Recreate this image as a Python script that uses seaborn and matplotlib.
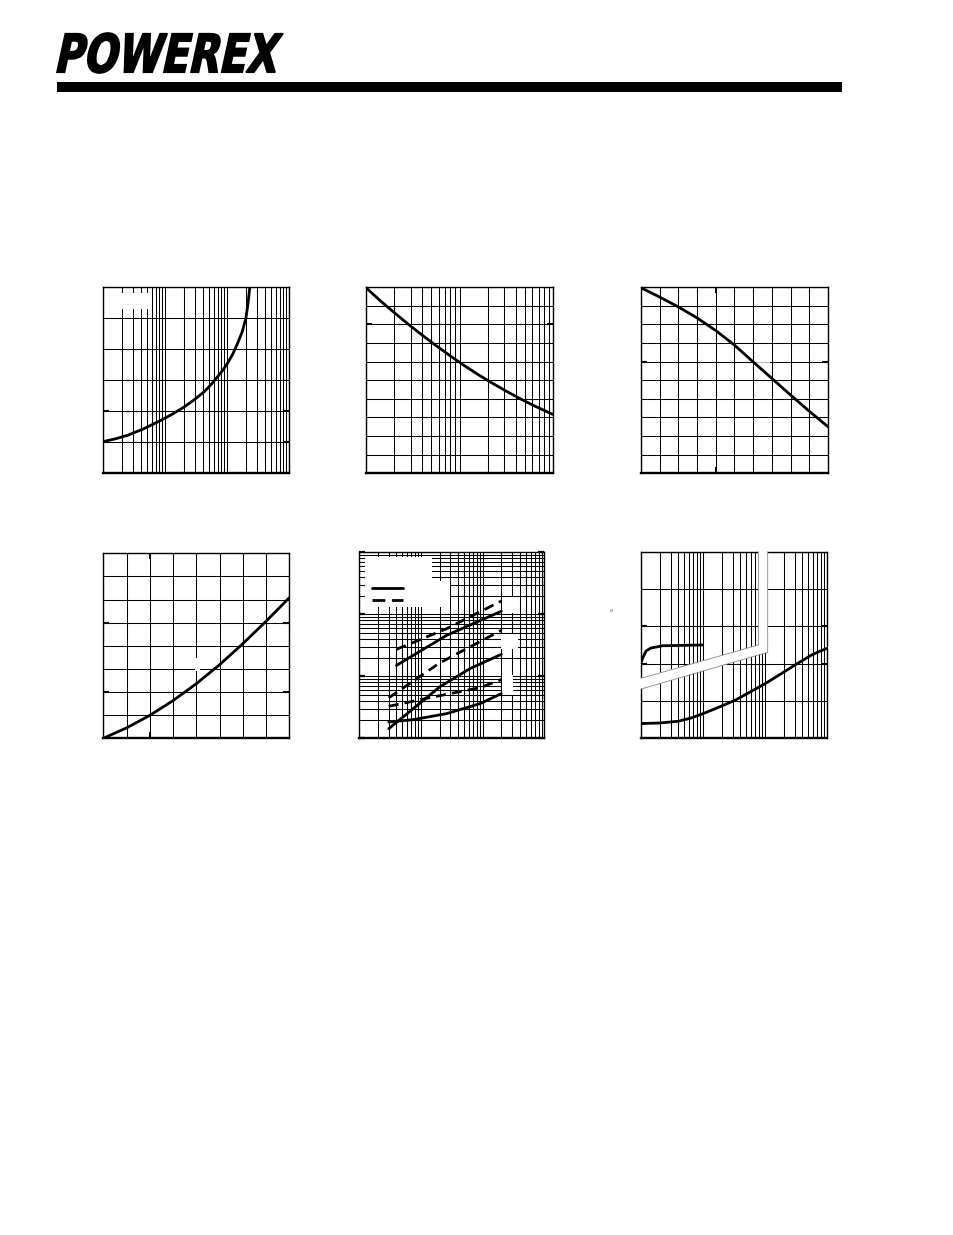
import numpy as np
import pandas as pd
import matplotlib
matplotlib.use("Agg")
import matplotlib.pyplot as plt
import seaborn as sns
from matplotlib.ticker import FixedLocator, LogLocator, NullFormatter
from matplotlib.patches import Rectangle, Polygon, PathPatch
from matplotlib.textpath import TextPath
from matplotlib.font_manager import FontProperties
from matplotlib.transforms import Affine2D

# ---------------- data ----------------
c1_x = [1, 1.58, 2.53, 4.47, 8.63, 13.2, 20.4, 29.5, 42.8, 55.0, 70, 85.1, 101, 123, 146.5, 174, 199, 214, 224, 231]
c1_y = [1.02, 1.11, 1.23, 1.43, 1.71, 1.91, 2.14, 2.37, 2.63, 2.86, 3.11, 3.32, 3.54, 3.84, 4.18, 4.55, 4.98, 5.4, 5.75, 6.0]

c2_x = [1, 1.41, 2.0, 2.82, 3.98, 5.62, 7.94, 11.2, 15.8, 22.4, 31.6, 44.7, 63.1, 100]
c2_y = [9.96, 9.28, 8.63, 8.01, 7.42, 6.85, 6.31, 5.79, 5.30, 4.84, 4.41, 4.00, 3.62, 3.16]

c3_x = [0, 1, 2, 3, 4, 5, 6, 7, 8, 9, 10]
c3_y = [9.96, 9.46, 8.93, 8.34, 7.66, 6.88, 5.98, 5.09, 4.2, 3.33, 2.5]

c4_x = [0, 1, 2, 3, 4, 5, 6, 7, 8]
c4_y = [0, 0.45, 0.99, 1.63, 2.36, 3.18, 4.09, 5.06, 6.08]

c5_d1_x = [4, 26, 200]
c5_d1_y = [27.2, 58.7, 164]
c5_s1_x = [4, 26, 200]
c5_s1_y = [15.0, 45.8, 112]
c5_d2_x = [3, 20, 200]
c5_d2_y = [4.5, 16.4, 55.2]
c5_s2_x = [3, 7.5, 20, 62, 200]
c5_s2_y = [1.43, 3.01, 6.73, 13.3, 22.6]
c5_d3_x = [3, 14, 90, 200]
c5_d3_y = [3.28, 4.53, 6.56, 8.83]
c5_s3_x = [3, 7.5, 26, 90, 200]
c5_s3_y = [1.83, 2.0, 2.5, 3.62, 5.25]

c6_a_x = [1.0, 1.064, 1.205, 1.45, 2.24, 9.9]
c6_a_y = [2.02, 2.15, 2.34, 2.42, 2.48, 2.5]
c6_b_x = [1, 2.0, 4.0, 6.3, 10, 17.8, 33, 56, 102, 178, 302, 417, 562, 759, 1000]
c6_b_y = [0.395, 0.41, 0.457, 0.54, 0.66, 0.83, 1.02, 1.23, 1.47, 1.72, 1.96, 2.1, 2.23, 2.33, 2.41]

# ---------------- figure ----------------
sns.set_style("white")
W, H = 954, 1235
fig = plt.figure(figsize=(W / 100, H / 100), dpi=100)
fig.patch.set_facecolor("white")

bg = fig.add_axes([0, 0, 1, 1], zorder=-10)
bg.set_xlim(0, W)
bg.set_ylim(0, H)
bg.axis("off")

# header: logo + bar
tp = TextPath((0, 0), "POWEREX", size=100,
              prop=FontProperties(family="DejaVu Sans", weight="bold"))
tp = tp.transformed(Affine2D().skew_deg(16, 0))
ext = tp.get_extents()
logo_box = (57, 283, 33, 73)  # x0, x1, ytop, ybottom in pixels
tr = (Affine2D().translate(-ext.x0, -ext.y0)
      .scale((logo_box[1] - logo_box[0]) / ext.width,
             (logo_box[3] - logo_box[2]) / ext.height)
      .translate(logo_box[0], H - logo_box[3]))
bg.add_patch(PathPatch(tp.transformed(tr), facecolor="black", edgecolor="black", lw=1.2))
bg.add_patch(Rectangle((57, H - 91.5), 785, 9.5, facecolor="black", edgecolor="none"))
bg.text(612, H - 610, "ø", fontsize=4, color="#888888", ha="center", va="center")


def make_ax(px0, px1, py0, py1):
    return fig.add_axes([px0 / W, 1 - py1 / H, (px1 - px0) / W, (py1 - py0) / H])


def setup(ax, xscale, yscale, xlim, ylim, xgrid, ygrid, xstub, ystub):
    ax.set_xscale(xscale)
    ax.set_yscale(yscale)
    ax.set_xlim(*xlim)
    ax.set_ylim(*ylim)
    for axis, scale, grid, stub in ((ax.xaxis, xscale, xgrid, xstub),
                                    (ax.yaxis, yscale, ygrid, ystub)):
        if scale == "log":
            axis.set_major_locator(LogLocator(base=10, numticks=20))
            axis.set_minor_locator(LogLocator(base=10, subs=np.arange(2, 10), numticks=60))
        else:
            axis.set_major_locator(FixedLocator(stub))
            axis.set_minor_locator(FixedLocator(grid))
        axis.set_major_formatter(NullFormatter())
        axis.set_minor_formatter(NullFormatter())
    ax.set_axisbelow(True)
    ax.grid(True, which="both", color="black", lw=0.75)
    ax.tick_params(which="minor", length=0)
    ax.tick_params(axis="x", which="major", direction="in", top=True, bottom=True,
                   length=4 if xstub else 0, width=1.5, color="black")
    ax.tick_params(axis="y", which="major", direction="in", left=True, right=True,
                   length=4 if ystub else 0, width=1.5, color="black")
    for s in ax.spines.values():
        s.set_color("black")
        s.set_linewidth(1.0)
    ax.spines["bottom"].set_linewidth(1.7)
    ax.set_xlabel("")
    ax.set_ylabel("")


def mask(ax, fx0, fx1, fy0, fy1, alpha=1.0):
    ax.add_patch(Rectangle((fx0, fy0), fx1 - fx0, fy1 - fy0, transform=ax.transAxes,
                           facecolor="white", edgecolor="none", zorder=1.5, alpha=alpha))


def curve(ax, x, y, ls="-"):
    sns.lineplot(x=x, y=y, ax=ax, color="black", lw=2.0, zorder=4,
                 estimator=None, linestyle=ls)


dash = (0, (3.6, 2.2))

# chart 1: log x (3 decades), linear y (6 div)
ax1 = make_ax(103.3, 289.3, 286.7, 473.3)
setup(ax1, "log", "linear", (1, 1000), (0, 6), None, list(range(7)), [], [1, 2])
mask(ax1, 0.004, 0.246, 0.878, 0.966)
curve(ax1, c1_x, c1_y)

# chart 2: log x (2 decades), linear y (10 div)
ax2 = make_ax(366, 553, 287, 473.3)
setup(ax2, "log", "linear", (1, 100), (0, 10), None, list(range(11)), [], [8])
curve(ax2, c2_x, c2_y)

# chart 3: linear both (10 div)
ax3 = make_ax(641, 828, 287, 473.3)
setup(ax3, "linear", "linear", (0, 10), (0, 10), list(range(11)), list(range(11)), [4], [6])
mask(ax3, 0.61, 0.69, 0.592, 0.607, alpha=0.75)
curve(ax3, c3_x, c3_y)

# chart 4: linear both (8 div)
ax4 = make_ax(103.3, 289.3, 553.3, 738.3)
setup(ax4, "linear", "linear", (0, 8), (0, 8), list(range(9)), list(range(9)), [2], [2, 5])
mask(ax4, 0.493, 0.52, 0.364, 0.434)
curve(ax4, c4_x, c4_y)

# chart 5: log-log (3 decades each)
ax5 = make_ax(359.3, 544.5, 552.3, 738.3)
setup(ax5, "log", "log", (1, 1000), (1, 1000), None, None, [], [])
ax5.tick_params(axis="y", which="major", length=4.5, width=1.6)
mask(ax5, 0.031, 0.393, 0.845, 0.975)
mask(ax5, 0.031, 0.490, 0.708, 0.846)
mask(ax5, 0.771, 0.852, 0.673, 0.759)
mask(ax5, 0.766, 0.857, 0.478, 0.559)
mask(ax5, 0.771, 0.830, 0.233, 0.340)
ax5.plot([0.069, 0.236], [0.808, 0.808], transform=ax5.transAxes, color="black", lw=2.0, zorder=4)
ax5.plot([0.069, 0.236], [0.744, 0.744], transform=ax5.transAxes, color="black", lw=2.0,
         zorder=4, linestyle=(0, (4.6, 2.4)))
curve(ax5, c5_d1_x, c5_d1_y, dash)
curve(ax5, c5_s1_x, c5_s1_y)
curve(ax5, c5_d2_x, c5_d2_y, dash)
curve(ax5, c5_s2_x, c5_s2_y)
curve(ax5, c5_d3_x, c5_d3_y, dash)
curve(ax5, c5_s3_x, c5_s3_y)

# chart 6: log x (3 decades), linear y (5 div)
ax6 = make_ax(641, 827, 551.7, 738.3)
setup(ax6, "log", "linear", (1, 1000), (0, 5), None, list(range(6)), [], [2, 3])
band = [(-0.006, 0.3215), (0.631, 0.50), (0.631, 1.01), (0.681, 1.01),
        (0.681, 0.461), (-0.006, 0.264)]
ax6.add_patch(Polygon(band, closed=True, transform=ax6.transAxes, facecolor="white",
                      edgecolor="none", zorder=3, clip_on=False))
ax6.plot([0.0, 0.631, 0.631], [0.3215, 0.50, 1.0], transform=ax6.transAxes,
         color="#8a8a8a", lw=0.6, zorder=3.2, clip_on=False)
ax6.plot([0.0, 0.681, 0.681], [0.264, 0.461, 1.0], transform=ax6.transAxes,
         color="#8a8a8a", lw=0.6, zorder=3.2, clip_on=False)
curve(ax6, c6_a_x, c6_a_y)
curve(ax6, c6_b_x, c6_b_y)

for a in (ax1, ax2, ax3, ax4, ax5, ax6):
    if a.get_legend() is not None:
        a.get_legend().remove()

fig.savefig("out.png", dpi=100, facecolor="white")
